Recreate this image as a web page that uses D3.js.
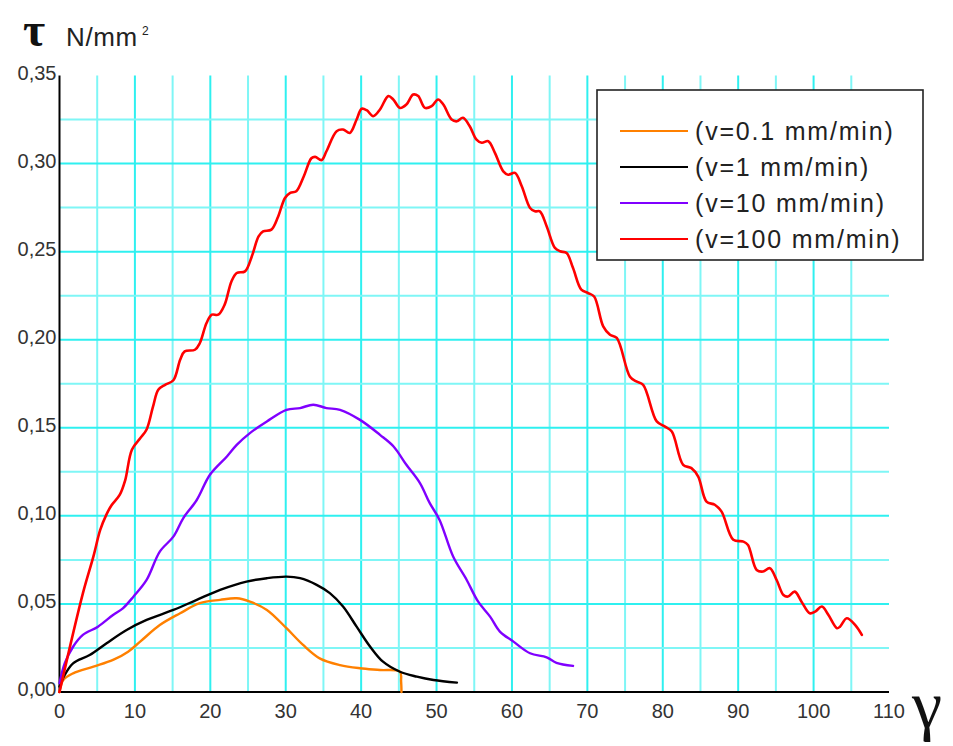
<!DOCTYPE html>
<html><head><meta charset="utf-8">
<script src="https://cdn.jsdelivr.net/npm/d3@7"></script>
<style>html,body{margin:0;padding:0;background:#fff;overflow:hidden}</style>
</head><body><svg id="c" width="953" height="746"></svg>
<script>
// ---- data ----
const xTicks = [0,10,20,30,40,50,60,70,80,90,100,110];
const yTicks = [0,0.05,0.10,0.15,0.20,0.25,0.30,0.35];
const yTickLabels = ["0,00","0,05","0,10","0,15","0,20","0,25","0,30","0,35"];
const xGrid = [5,10,15,20,25,30,35,40,45,50,55,60,65,70,75,80,85,90,95,100,105];
const yGrid = [0.025,0.05,0.075,0.10,0.125,0.15,0.175,0.20,0.225,0.25,0.275,0.30,0.325];
const legendLabels = ["(v=0.1 mm/min)","(v=1 mm/min)","(v=10 mm/min)","(v=100 mm/min)"];
const seriesColors = ["#ff8000","#000000","#8000ff","#ff0000"];

const orange = [[0,0],[0.5,0.0068],[1.8,0.0106],[4.5,0.0144],[7.1,0.0182],[9.1,0.0229],[10.7,0.0286],[13.3,0.038],[16.0,0.0447],[18.6,0.0504],[21.3,0.0523],[23.5,0.0532],[25.25,0.0513],[27.5,0.0466],[30.1,0.0362],[32.3,0.0267],[34.5,0.0191],[37.2,0.0153],[39.85,0.0135],[42.5,0.0125],[45.15,0.0115],[45.3,0.006],[45.35,0]];
const black = [[0,0.003],[0.6,0.009],[1.8,0.0163],[4.0,0.021],[6.25,0.0277],[8.9,0.0352],[11.55,0.0409],[15.1,0.0466],[18.2,0.0523],[21.3,0.058],[24.8,0.0627],[27.5,0.0646],[30.1,0.0655],[31.9,0.0646],[34.1,0.0608],[35.85,0.0561],[37.6,0.0485],[39.4,0.0371],[41.2,0.0257],[42.9,0.0172],[45.15,0.0115],[47.4,0.0087],[49.6,0.0068],[52.7,0.0053]];
const purple = [[0,0.005],[0.7,0.0163],[1.8,0.0257],[3.1,0.0324],[5.1,0.0371],[7.1,0.0437],[8.4,0.0475],[9.8,0.0541],[11.55,0.0636],[13.3,0.0797],[15.1,0.0882],[16.4,0.0986],[18.2,0.109],[19.95,0.1233],[22.2,0.1337],[23.5,0.1403],[25.25,0.147],[27.5,0.1536],[30.1,0.1602],[31.9,0.1612],[33.65,0.1631],[35.4,0.1612],[37.2,0.1602],[39.85,0.1545],[42.5,0.146],[44.3,0.1394],[46.0,0.129],[47.8,0.1186],[49.1,0.1072],[50.4,0.0977],[52.2,0.0769],[54.0,0.0636],[55.5,0.0514],[57.1,0.0428],[58.4,0.0343],[60.2,0.0286],[62.4,0.022],[64.6,0.0197],[65.9,0.0166],[68.1,0.0148]];
const red = [[0,0],[3.1,0.056],[4.5,0.077],[5.4,0.092],[6.25,0.101],[6.9,0.106],[8.0,0.112],[8.7,0.120],[9.6,0.1375],[10.7,0.144],[11.55,0.149],[12.4,0.162],[13.1,0.1716],[14.0,0.1744],[15.1,0.177],[16.0,0.1886],[16.6,0.1934],[17.96,0.1943],[18.6,0.198],[19.5,0.2095],[20.2,0.2142],[21.05,0.2142],[21.9,0.2199],[22.8,0.2331],[23.5,0.2379],[24.6,0.2388],[25.5,0.2473],[26.4,0.2587],[27.0,0.2615],[28.1,0.2625],[29.0,0.270],[29.9,0.2805],[30.6,0.2834],[31.4,0.2843],[32.4,0.2928],[33.4,0.3030],[33.9,0.3038],[34.76,0.302],[35.4,0.307],[36.75,0.3184],[37.6,0.3193],[38.5,0.3174],[39.4,0.325],[40.07,0.3311],[40.73,0.3303],[41.6,0.3269],[42.5,0.3307],[43.6,0.3383],[44.26,0.3364],[45.15,0.3316],[46.0,0.3335],[46.9,0.3392],[47.57,0.3383],[48.46,0.3316],[49.35,0.3326],[50.2,0.3364],[50.9,0.3335],[52.0,0.325],[52.7,0.324],[53.5,0.326],[54.4,0.3212],[55.3,0.3136],[56.0,0.3118],[56.86,0.3127],[57.74,0.3061],[58.85,0.2956],[59.5,0.2937],[60.4,0.2947],[61.3,0.2871],[62.4,0.2748],[63.05,0.2729],[63.7,0.2729],[64.6,0.2644],[65.7,0.2521],[66.4,0.2502],[67.25,0.2492],[68.1,0.2407],[69.2,0.2284],[70.1,0.2265],[70.9,0.2245],[72.1,0.2076],[73.0,0.2028],[73.9,0.201],[75.65,0.179],[76.5,0.1763],[77.4,0.1744],[79.2,0.1536],[80.3,0.1507],[81.2,0.1479],[82.7,0.129],[83.8,0.1271],[84.7,0.1223],[85.8,0.1081],[86.9,0.1063],[87.8,0.1024],[89.35,0.0864],[90.7,0.0854],[91.3,0.0835],[92.45,0.0693],[93.3,0.0684],[94.2,0.0703],[95.1,0.0636],[96.0,0.0551],[96.6,0.0542],[97.5,0.057],[98.4,0.0513],[99.5,0.0447],[100.2,0.0456],[101.1,0.0485],[101.95,0.0438],[103.1,0.0362],[103.5,0.0371],[104.4,0.0419],[105.5,0.0381],[106.4,0.0324]];
const allSeries = [orange, black, purple, red];

// ---- chart ----
const svg = d3.select("#c");
const x = d3.scaleLinear().domain([0,110]).range([59.5,889]);
const y = d3.scaleLinear().domain([0,0.35]).range([692,75.5]);
const font = "'Liberation Sans', Arial, sans-serif";

// grid
svg.append("g").selectAll("line").data(xGrid).join("line")
  .attr("x1",d=>x(d)).attr("x2",d=>x(d)).attr("y1",y(0.35)).attr("y2",y(0))
  .attr("stroke",(d,i)=> i%2 ? "#2ff0f0" : "#7ff6f6").attr("stroke-width",2);
svg.append("g").selectAll("line").data(yGrid).join("line")
  .attr("x1",x(0)).attr("x2",x(110)).attr("y1",d=>y(d)).attr("y2",d=>y(d))
  .attr("stroke",(d,i)=> i%2 ? "#2ff0f0" : "#7ff6f6").attr("stroke-width",2);

// axes lines
svg.append("line").attr("x1",x(0)).attr("x2",x(0)).attr("y1",y(0.35)).attr("y2",y(0)+1)
  .attr("stroke","#000").attr("stroke-width",2);
svg.append("line").attr("x1",x(0)-1).attr("x2",x(110)).attr("y1",y(0)).attr("y2",y(0))
  .attr("stroke","#000").attr("stroke-width",2);

// tick labels
svg.append("g").selectAll("text").data(xTicks).join("text")
  .attr("x",d=>x(d)).attr("y",y(0)+26).attr("text-anchor","middle")
  .attr("font-family",font).attr("font-size",20).attr("fill","#333").text(d=>d);
svg.append("g").selectAll("text").data(yTicks).join("text")
  .attr("x",x(0)-3).attr("y",d=>y(d)+4).attr("text-anchor","end")
  .attr("font-family",font).attr("font-size",20).attr("fill","#333")
  .text((d,i)=>yTickLabels[i]);

// axis titles
svg.append("text").attr("x",23).attr("y",46).attr("font-family","'Liberation Serif', serif")
  .attr("font-size",48).attr("font-weight","bold").attr("fill","#111").text("τ");
svg.append("text").attr("x",66).attr("y",46).attr("font-family",font)
  .attr("font-size",26).attr("letter-spacing",0.6).attr("fill","#222").text("N/mm");
svg.append("text").attr("x",142).attr("y",35).attr("font-family",font)
  .attr("font-size",12).attr("fill","#222").text("2");
svg.append("text").attr("x",912).attr("y",728).attr("font-family","'Liberation Serif', serif")
  .attr("font-size",68).attr("fill","#111").text("γ");

// curves
const line = d3.line().x(d=>x(d[0])).y(d=>y(d[1])).curve(d3.curveCatmullRom.alpha(0.5));
svg.append("g").selectAll("path").data(allSeries).join("path")
  .attr("d",line).attr("fill","none")
  .attr("stroke",(d,i)=>seriesColors[i]).attr("stroke-width",(d,i)=> i===3 ? 2.6 : 2.4)
  .attr("stroke-linejoin","round").attr("stroke-linecap","round");

// legend
const lg = svg.append("g");
lg.append("rect").attr("x",597).attr("y",90).attr("width",326).attr("height",170)
  .attr("fill","#fff").attr("stroke","#222").attr("stroke-width",1.6);
const rows = lg.selectAll("g.row").data(legendLabels).join("g").attr("class","row")
  .attr("transform",(d,i)=>`translate(0,${131+i*36})`);
rows.append("line").attr("x1",620).attr("x2",688).attr("y1",0).attr("y2",0)
  .attr("stroke",(d,i)=>seriesColors[i]).attr("stroke-width",2);
rows.append("text").attr("x",695).attr("y",9).attr("font-family",font).attr("font-size",25)
  .attr("letter-spacing",1.8).attr("fill","#222").text(d=>d);
</script></body></html>
